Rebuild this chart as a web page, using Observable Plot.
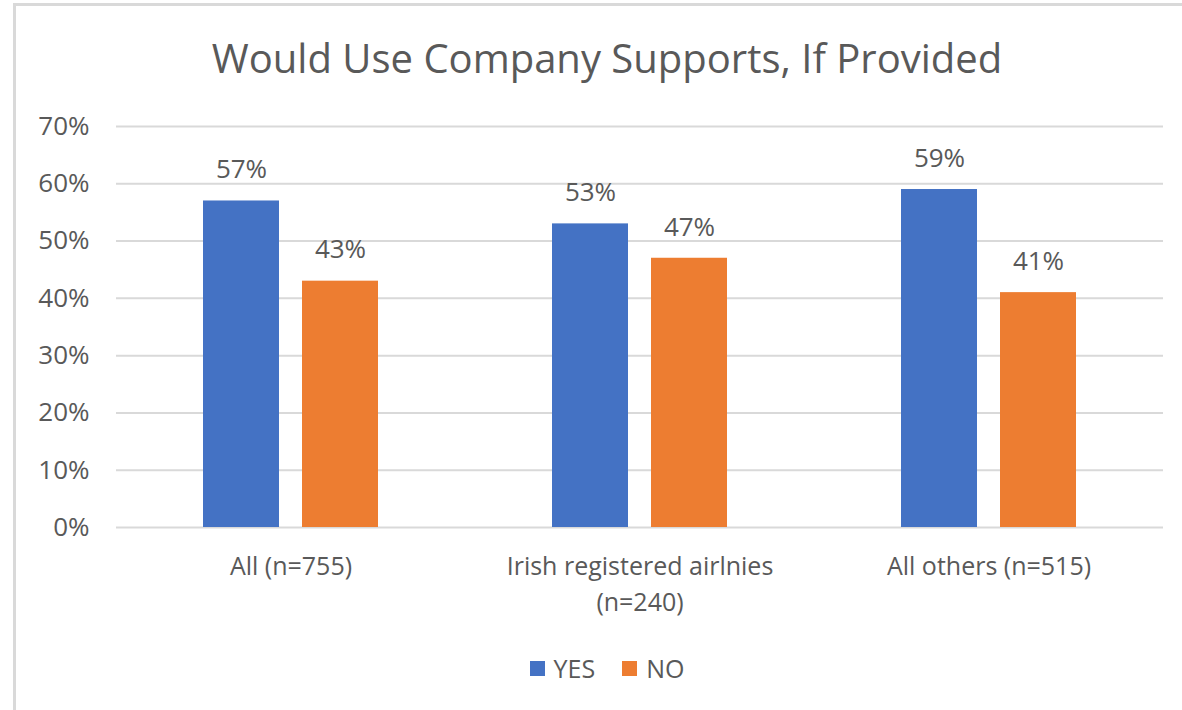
<!DOCTYPE html>
<html>
<head>
<meta charset="utf-8">
<script src="https://cdn.jsdelivr.net/npm/d3@7"></script>
<script src="https://cdn.jsdelivr.net/npm/@observablehq/plot@0.6"></script>
<style>
  html, body { margin: 0; padding: 0; background: #fff; }
  #chart {
    position: relative; width: 1182px; height: 710px; overflow: hidden;
    font-family: "Open Sans", sans-serif; color: #595959;
  }
  #frame {
    position: absolute; left: 13px; top: 3px; right: -10px; bottom: -10px;
    border-left: 3px solid #d9d9d9; border-top: 3px solid #d9d9d9;
  }
  #title {
    position: absolute; left: 0; width: 1214px; top: 30px;
    text-align: center; font-size: 40px; line-height: 56px; color: #595959;
  }
  #plot { position: absolute; left: 0; top: 100px; }
  #legend {
    position: absolute; left: 0; width: 1214px; top: 652px;
    display: flex; justify-content: center; gap: 27px; font-size: 25px; line-height: 32px;
  }
  #legend .item { display: flex; align-items: center; gap: 9px; }
  #legend .swatch { width: 15px; height: 15px; display: inline-block; }
</style>
</head>
<body>
<div id="chart">
  <div id="frame"></div>
  <div id="title">Would Use Company Supports, If Provided</div>
  <div id="plot"></div>
  <div id="legend"></div>
</div>
<script>
// Survey groups, answers and the share (%) giving each answer
const groups = ["All (n=755)", "Irish registered airlnies\n(n=240)", "All others (n=515)"];
const answers = ["YES", "NO"];
const yesShare = [57, 53, 59];
const noShare = [43, 47, 41];
const colors = ["#4472C4", "#ED7D31"];
const yTicks = [0, 10, 20, 30, 40, 50, 60, 70];

const rows = groups.flatMap((g, i) => [
  {group: g, answer: "YES", value: yesShare[i]},
  {group: g, answer: "NO", value: noShare[i]}
]);

const chart = Plot.plot({
  width: 1182,
  height: 530,
  marginLeft: 115,
  marginRight: 19,
  marginTop: 26,
  marginBottom: 103,
  style: {fontFamily: "Open Sans, sans-serif", fontSize: "26px", color: "#595959", background: "transparent"},
  fx: {domain: groups, paddingInner: 0, paddingOuter: 0, label: null},
  x: {domain: answers, paddingInner: 0.23, paddingOuter: 0.8615, axis: null},
  y: {domain: [0, 70], label: null},
  color: {domain: answers, range: colors},
  marks: [
    Plot.ruleY(yTicks, {stroke: "#d9d9d9", strokeWidth: 2}),
    Plot.axisY(yTicks, {
      tickSize: 0, tickPadding: 27, tickFormat: d => d + "%",
      fontSize: 26, fill: "#595959", label: null
    }),
    Plot.axisFx({
      anchor: "bottom", tickSize: 0, tickPadding: 22, fontSize: 25,
      lineHeight: 1.45, fill: "#595959", label: null
    }),
    Plot.barY(rows, {fx: "group", x: "answer", y: "value", fill: "answer"}),
    Plot.text(rows, {
      fx: "group", x: "answer", y: "value", text: d => d.value + "%",
      dy: -31, fontSize: 26, fill: "#595959"
    })
  ]
});
document.getElementById("plot").appendChild(chart);

const legend = document.getElementById("legend");
answers.forEach((a, i) => {
  const item = document.createElement("span");
  item.className = "item";
  const sw = document.createElement("span");
  sw.className = "swatch";
  sw.style.background = colors[i];
  const label = document.createElement("span");
  label.textContent = a;
  item.append(sw, label);
  legend.append(item);
});
</script>
</body>
</html>
